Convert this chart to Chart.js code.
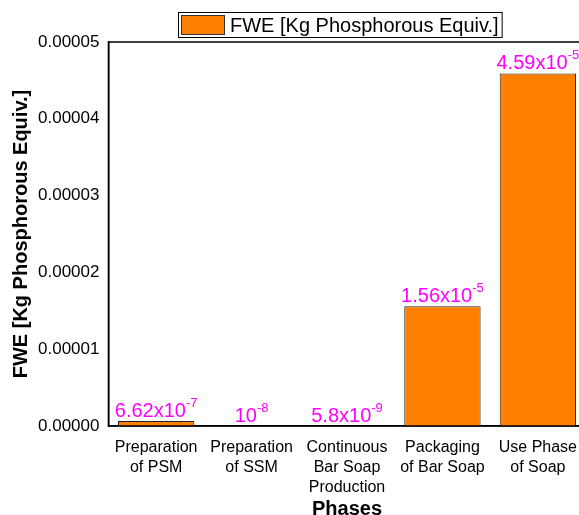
<!DOCTYPE html>
<html lang="en">
<head>
    <meta charset="UTF-8">
    <title>FWE by phase</title>
    <script src="https://cdn.jsdelivr.net/npm/chart.js"></script>
    <style>
        html, body {
            margin: 0;
            padding: 0;
            background: #fff;
            overflow: hidden;
        }
        #fweChart {
            display: block;
        }
    </style>
</head>
<body>
    <canvas id="fweChart" width="589" height="515"></canvas>

    <script>
        // data
        const phases = [
            ['Preparation', 'of PSM'],
            ['Preparation', 'of SSM'],
            ['Continuous', 'Bar Soap', 'Production'],
            ['Packaging', 'of Bar Soap'],
            ['Use Phase', 'of Soap']
        ];
        const fweValues = [6.62e-7, 1e-8, 5.8e-9, 1.56e-5, 4.59e-5];
        // label text: mantissa part + exponent (superscript)
        const labelBase = ['6.62x10', '10', '5.8x10', '1.56x10', '4.59x10'];
        const labelExp = ['-7', '-8', '-9', '-5', '-5'];
        const yTicks = [0, 0.00001, 0.00002, 0.00003, 0.00004, 0.00005];

        const FONT = "'Liberation Sans', Arial, sans-serif";
        const ORANGE = '#ff8000';

        // frame around plot + legend box + value labels
        const decorPlugin = {
            id: 'decor',
            afterDatasetsDraw(chart) {
                const ctx = chart.ctx;
                const meta = chart.getDatasetMeta(0);
                ctx.save();
                ctx.fillStyle = '#ff00ff';
                ctx.textBaseline = 'alphabetic';
                meta.data.forEach((bar, i) => {
                    ctx.font = '20px ' + FONT;
                    const wBase = ctx.measureText(labelBase[i]).width;
                    ctx.font = '13px ' + FONT;
                    const wExp = ctx.measureText(labelExp[i]).width;
                    const x0 = bar.x - (wBase + wExp) / 2;
                    const yb = bar.y - 4;
                    ctx.font = '20px ' + FONT;
                    ctx.textAlign = 'left';
                    ctx.fillText(labelBase[i], x0, yb);
                    ctx.font = '13px ' + FONT;
                    ctx.fillText(labelExp[i], x0 + wBase, yb - 10);
                });
                ctx.restore();
            },
            afterDraw(chart) {
                const ctx = chart.ctx;
                const a = chart.chartArea;
                ctx.save();
                ctx.strokeStyle = '#000';
                ctx.lineWidth = 1.5;
                ctx.strokeRect(a.left, a.top, a.right - a.left, a.bottom - a.top);

                // legend
                const text = chart.data.datasets[0].label;
                ctx.font = '20px ' + FONT;
                const tw = ctx.measureText(text).width;
                const lx = 178, ly = 12, lh = 25;
                const lw = 3 + 44 + 5 + tw + 3;
                ctx.lineWidth = 1;
                ctx.strokeStyle = '#000';
                ctx.strokeRect(lx + 0.5, ly + 0.5, lw, lh);
                ctx.fillStyle = ORANGE;
                ctx.fillRect(lx + 3, ly + 3, 44, 20);
                ctx.strokeStyle = '#333';
                ctx.strokeRect(lx + 3.5, ly + 3.5, 43, 19);
                ctx.fillStyle = '#000';
                ctx.textBaseline = 'middle';
                ctx.fillText(text, lx + 52, ly + 14);
                ctx.restore();
            }
        };

        const ctx = document.getElementById('fweChart').getContext('2d');
        new Chart(ctx, {
            type: 'bar',
            data: {
                labels: phases,
                datasets: [{
                    label: 'FWE [Kg Phosphorous Equiv.]',
                    data: fweValues,
                    backgroundColor: ORANGE,
                    borderColor: '#222',
                    borderWidth: 1,
                    barPercentage: 0.8,
                    categoryPercentage: 1.0
                }]
            },
            options: {
                responsive: false,
                animation: false,
                layout: {
                    padding: { top: 42, left: 9, right: 0, bottom: -1 }
                },
                plugins: {
                    legend: { display: false },
                    tooltip: { enabled: false }
                },
                scales: {
                    x: {
                        grid: { display: false, drawTicks: false },
                        border: { display: true, color: '#000', width: 1.5 },
                        ticks: {
                            color: '#000',
                            font: { family: FONT, size: 16, lineHeight: 1.25 },
                            padding: 12,
                            maxRotation: 0,
                            autoSkip: false
                        },
                        title: {
                            display: true,
                            text: 'Phases',
                            color: '#000',
                            font: { family: FONT, size: 20, weight: 'bold' },
                            padding: { top: -13, bottom: -5 }
                        }
                    },
                    y: {
                        min: 0,
                        max: 0.00005,
                        afterBuildTicks(scale) {
                            scale.ticks = yTicks.map(v => ({ value: v }));
                        },
                        grid: { display: false, drawTicks: false },
                        border: { display: true, color: '#000', width: 1.5 },
                        ticks: {
                            color: '#000',
                            font: { family: FONT, size: 17 },
                            padding: 9,
                            callback: v => Number(v).toFixed(5)
                        },
                        title: {
                            display: true,
                            text: 'FWE [Kg Phosphorous Equiv.]',
                            color: '#000',
                            font: { family: FONT, size: 20, weight: 'bold' },
                            padding: { top: 0, bottom: -4 }
                        }
                    }
                }
            },
            plugins: [decorPlugin]
        });
    </script>
</body>
</html>
